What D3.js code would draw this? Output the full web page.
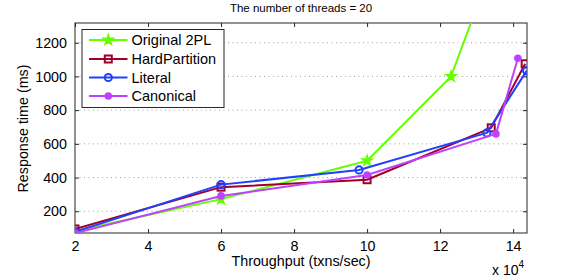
<!DOCTYPE html>
<html><head><meta charset="utf-8">
<script src="https://cdn.jsdelivr.net/npm/d3@7"></script>
<style>
body{margin:0;background:#fff;}
text{font-family:"Liberation Sans",Arial,sans-serif;fill:#000;}
</style></head>
<body>
<svg id="chart" width="581" height="276"></svg>
<script>
const seriesNames = ["Original 2PL","HardPartition","Literal","Canonical"];
const seriesColors = ["#66ff00","#a0002a","#2040ff","#c040ff"];
const x2PL = [2, 6, 10, 12.3, 13.5];
const y2PL = [82, 272, 500, 1000, 1700];
const xHard = [2, 6, 10, 13.4, 14.33];
const yHard = [95, 343, 387, 695, 1075];
const xLiteral = [2, 6, 9.78, 13.28, 14.37];
const yLiteral = [78, 358, 445, 665, 1033];
const xCanonical = [2, 6, 10, 13.53, 14.13];
const yCanonical = [70, 291, 415, 659, 1108];
const xTicks = [2,4,6,8,10,12,14];
const yTicks = [200,400,600,800,1000,1200];
const title = "The number of threads = 20";
const xLabel = "Throughput (txns/sec)";
const yLabel = "Response time (ms)";

const L=75,R=527,T=23,B=233;
const svg = d3.select("#chart");
const x = d3.scaleLinear().domain([2,14.38]).range([L,R]);
const y = d3.scaleLinear().domain([71,1317]).range([B,T]);

// grid
svg.append("g").selectAll("line").data(yTicks).join("line")
  .attr("x1",L).attr("x2",R).attr("y1",d=>y(d)).attr("y2",d=>y(d))
  .attr("stroke","#a0a0a0").attr("stroke-width",1).attr("stroke-dasharray","1,3.5");

// axes
const fs = "14.3px";
const ax = svg.append("g").attr("transform",`translate(0,${B})`)
  .call(d3.axisBottom(x).tickValues(xTicks).tickFormat(d3.format("d")).tickSizeInner(-4).tickSizeOuter(0).tickPadding(7.5));
const axT = svg.append("g").attr("transform",`translate(0,${T})`)
  .call(d3.axisTop(x).tickValues(xTicks).tickFormat("").tickSizeInner(-4).tickSizeOuter(0));
const ay = svg.append("g").attr("transform",`translate(${L},0)`)
  .call(d3.axisLeft(y).tickValues(yTicks).tickFormat(d3.format("d")).tickSizeInner(-4).tickSizeOuter(0).tickPadding(8));
const ayR = svg.append("g").attr("transform",`translate(${R},0)`)
  .call(d3.axisRight(y).tickValues(yTicks).tickFormat("").tickSizeInner(-4).tickSizeOuter(0));
[ax,axT,ay,ayR].forEach(g=>{
  g.select(".domain").remove();
  g.selectAll("line").attr("stroke","#262626");
  g.selectAll("text").style("font-size",fs).style("font-family","'Liberation Sans',Arial,sans-serif").attr("fill","#000");
});
svg.append("rect").attr("x",L).attr("y",T).attr("width",R-L).attr("height",B-T)
  .attr("fill","none").attr("stroke","#262626").attr("stroke-width",1);

// clip
svg.append("clipPath").attr("id","clip").append("rect").attr("x",L).attr("y",T).attr("width",R-L).attr("height",B-T);

const data = [
  {xs:x2PL, ys:y2PL, m:"star"},
  {xs:xHard, ys:yHard, m:"square"},
  {xs:xLiteral, ys:yLiteral, m:"circle"},
  {xs:xCanonical, ys:yCanonical, m:"dot"}
];
function drawMarker(g, type, color, cx, cy){
  if(type==="star"){
    g.append("path").attr("d",d3.symbol().type(d3.symbolStar).size(38)()).attr("transform",`translate(${cx},${cy})`)
      .attr("fill",color).attr("stroke",color).attr("stroke-width",1.2);
  } else if(type==="square"){
    g.append("rect").attr("x",cx-3.5).attr("y",cy-3.5).attr("width",7).attr("height",7)
      .attr("fill","none").attr("stroke",color).attr("stroke-width",2);
  } else if(type==="circle"){
    g.append("circle").attr("cx",cx).attr("cy",cy).attr("r",3.6)
      .attr("fill","none").attr("stroke",color).attr("stroke-width",2);
  } else {
    g.append("circle").attr("cx",cx).attr("cy",cy).attr("r",3.8).attr("fill",color);
  }
}
const plot = svg.append("g").attr("clip-path","url(#clip)");
const line = d3.line().x(d=>x(d[0])).y(d=>y(d[1]));
data.forEach((s,i)=>{
  const pts = s.xs.map((v,j)=>[v,s.ys[j]]);
  const g = plot.append("g");
  g.append("path").datum(pts).attr("d",line).attr("fill","none")
    .attr("stroke",seriesColors[i]).attr("stroke-width",2).attr("stroke-linejoin","round");
  pts.forEach(p=>drawMarker(g, s.m, seriesColors[i], x(p[0]), y(p[1])));
});

// legend
const lg = svg.append("g");
lg.append("rect").attr("x",82).attr("y",29.5).attr("width",142).attr("height",78)
  .attr("fill","#fff").attr("stroke","#262626").attr("stroke-width",1);
const ly = [40,59,77.5,96];
seriesNames.forEach((n,i)=>{
  lg.append("line").attr("x1",89).attr("x2",127.5).attr("y1",ly[i]).attr("y2",ly[i])
    .attr("stroke",seriesColors[i]).attr("stroke-width",2);
  drawMarker(lg, data[i].m, seriesColors[i], 108.3, ly[i]);
  lg.append("text").attr("x",131.5).attr("y",ly[i]+5.2).style("font-size","14.5px").text(n);
});

// titles
svg.append("text").attr("x",301).attr("y",11.8).attr("text-anchor","middle").style("font-size","11.5px").text(title);
svg.append("text").attr("x",301).attr("y",266).attr("text-anchor","middle").style("font-size",fs).text(xLabel);
svg.append("text").attr("transform","translate(28,128.5) rotate(-90)").attr("text-anchor","middle").style("font-size",fs).text(yLabel);
const ex = svg.append("text").attr("x",492).attr("y",274.5).style("font-size","14px");
ex.append("tspan").text("x 10");
ex.append("tspan").attr("dy",-7).style("font-size","10px").text("4");
</script>
</body></html>
